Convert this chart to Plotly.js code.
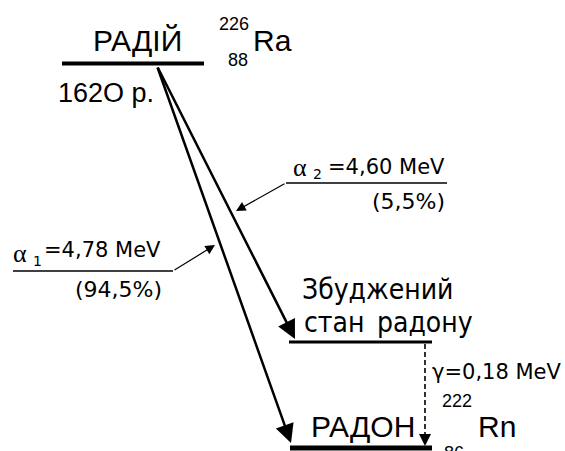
<!DOCTYPE html>
<html><head><meta charset="utf-8">
<script src="https://cdn.plot.ly/plotly-3.0.1.min.js"></script>
<style>html,body{margin:0;padding:0;background:#fff}</style>
</head><body><div id="chart" style="width:565px;height:451px"></div>
<script>
// ---- data ----
const levelNames = ['РАДІЙ', 'Збуджений', 'стан\u2002радону', 'РАДОН'];
const halfLife = '162О р.';
const alphaNames = ['α', 'α'];
const alphaIndex = ['1', '2'];
const alphaEnergies = ['=4,78 MeV', '=4,60 MeV'];
const alphaShares = ['(94,5%)', '(5,5%)'];
const gammaLabel = 'γ=0,18 MeV';
const massNumbers = ['226', '222'];
const atomicNumbers = ['88', '86'];
const symbols = ['Ra', 'Rn'];

// ---- geometry of the scheme (pixel-like data units) ----
const G = {
  ra: {x: [62, 204], y: 63.5},
  ex: {x: [289, 432], y: 342},
  gr: {x: [290, 432], y: 448},
  src: [157, 66],
  tipLong: [291, 443],
  tipShort: [295, 339],
  gx: 425
};

const SANS = 'Liberation Sans, Arial, sans-serif';
const DV = 'DejaVu Sans Condensed, DejaVu Sans, sans-serif';
const DVN = 'DejaVu Sans, sans-serif';
const SERIF = 'Liberation Serif, DejaVu Serif, serif';

const lineTrace = (x, y, w, dash) => ({
  type: 'scatter', mode: 'lines', x: x, y: y,
  line: {color: '#000', width: w, dash: dash || 'solid'},
  hoverinfo: 'skip', showlegend: false
});

const traces = [
  lineTrace(G.ra.x, [G.ra.y, G.ra.y], 4),
  lineTrace(G.ex.x, [G.ex.y, G.ex.y], 3),
  lineTrace(G.gr.x, [G.gr.y, G.gr.y], 5),
  lineTrace([G.gx, G.gx], [G.ex.y + 2, G.gr.y - 8], 1.6, '5px,3px'),
  // leader lines under alpha labels
  lineTrace([13, 173], [271, 271], 1.5),
  lineTrace([286, 447], [183, 183], 1.5)
];

const txt = (text, x, y, size, family, xanchor, yshift) => ({
  text: text, x: x, y: y, xref: 'x', yref: 'y', showarrow: false,
  xanchor: xanchor || 'center', yanchor: 'middle', yshift: yshift || 0,
  borderpad: 0,
  font: {size: size, family: family, color: '#000'}
});
const arrow = (tip, tail, w, size, head) => ({
  text: '', x: tip[0], y: tip[1], ax: tail[0], ay: tail[1],
  xref: 'x', yref: 'y', axref: 'x', ayref: 'y',
  showarrow: true, arrowhead: head, arrowsize: size, arrowwidth: w,
  arrowcolor: '#000', startstandoff: 0, standoff: 0
});

const ann = [
  txt(levelNames[0], 137.5, 40, 30, SANS),
  txt(massNumbers[0], 234, 23.5, 18, SANS),
  txt(atomicNumbers[0], 238, 59.5, 18, SANS),
  txt(symbols[0], 252, 40, 30, SANS, 'left'),
  txt(halfLife, 57, 93, 27, SANS, 'left'),

  txt(alphaNames[1], 292, 167, 26, SERIF, 'left'),
  txt(alphaIndex[1], 312, 174, 14, DVN, 'left'),
  txt(alphaEnergies[1], 446, 167, 21, DVN, 'right'),
  txt(alphaShares[1], 446, 201, 22, DVN, 'right'),

  txt(alphaNames[0], 12, 253, 26, SERIF, 'left'),
  txt(alphaIndex[0], 32, 261, 14, DVN, 'left'),
  txt(alphaEnergies[0], 162, 250, 21, DVN, 'right'),
  txt(alphaShares[0], 163, 289, 22, DVN, 'right'),

  txt(levelNames[1], 301, 289, 28, DV, 'left'),
  txt(levelNames[2], 303, 322, 28, DV, 'left'),
  txt(gammaLabel, 431, 372, 21, DVN, 'left'),

  txt(levelNames[3], 363, 426, 30, SANS),
  txt(massNumbers[1], 457, 401, 18, SANS),
  txt(atomicNumbers[1], 454, 445, 18, SANS, 'center', -8),
  txt(symbols[1], 477, 426, 30, SANS, 'left'),

  arrow(G.tipLong, G.src, 2.5, 1.5, 2),
  arrow(G.tipShort, G.src, 2.5, 1.5, 2),
  arrow([G.gx, G.gr.y - 2], [G.gx, G.gr.y - 12], 1.6, 1.5, 2),
  arrow([236, 211], [286, 183], 1.2, 1.6, 2),
  arrow([215, 245], [173, 271], 1.2, 1.6, 2)
];

const layout = {
  width: 565, height: 451,
  margin: {l: 0, r: 0, t: 0, b: 0},
  paper_bgcolor: '#fff', plot_bgcolor: '#fff',
  xaxis: {range: [0, 565], visible: false, fixedrange: true},
  yaxis: {range: [451, 0], visible: false, fixedrange: true},
  annotations: ann, showlegend: false
};
Plotly.newPlot('chart', traces, layout, {staticPlot: true, displayModeBar: false});
</script></body></html>
